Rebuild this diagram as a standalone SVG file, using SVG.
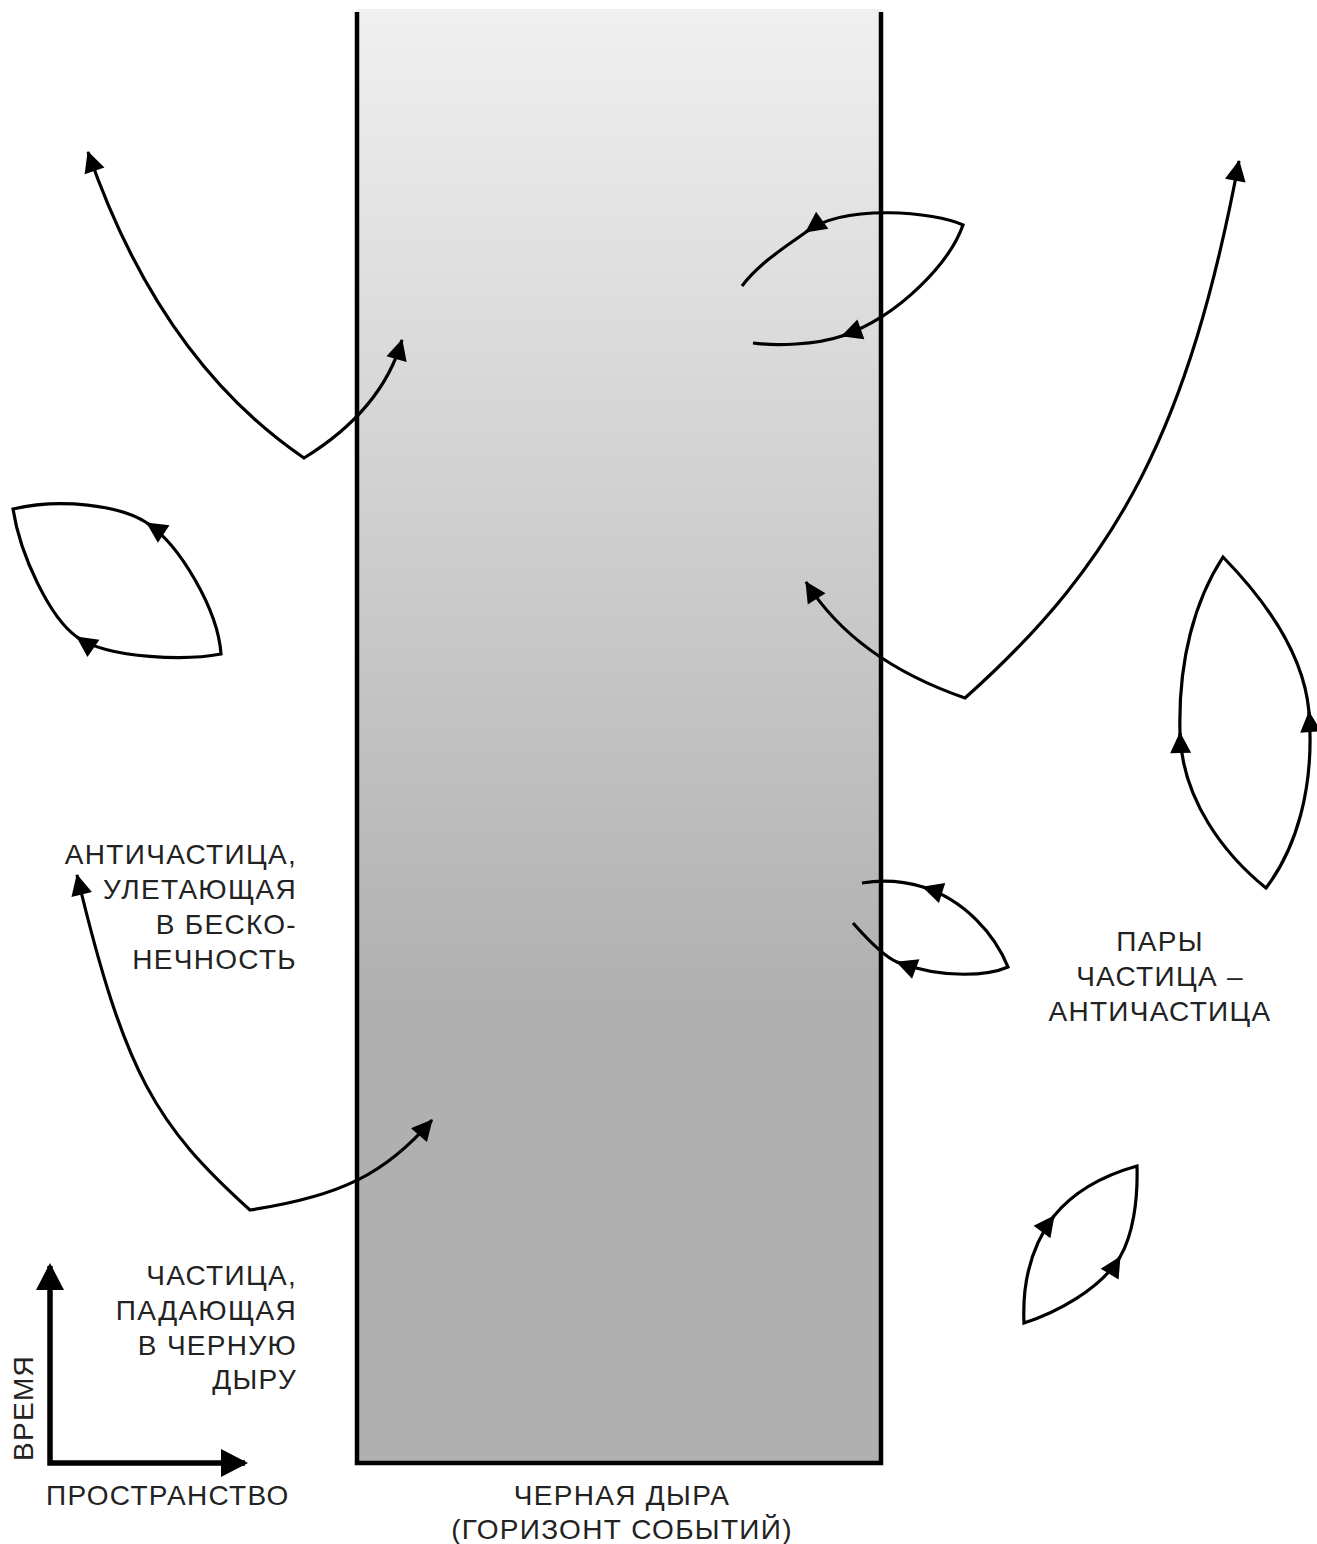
<svg xmlns="http://www.w3.org/2000/svg" width="1317" height="1544" viewBox="0 0 1317 1544">
  <defs>
    <linearGradient id="bh" gradientUnits="userSpaceOnUse" x1="0" y1="9" x2="0" y2="1463">
      <stop offset="0" stop-color="#f0f0f0"/>
      <stop offset="0.68" stop-color="#b0b0b0"/>
      <stop offset="1" stop-color="#b0b0b0"/>
    </linearGradient>
    <marker id="ah" markerUnits="userSpaceOnUse" markerWidth="24" markerHeight="24" refX="20" refY="10.5" orient="auto-start-reverse" overflow="visible">
      <path d="M0,0 L21,10.5 L0,21 z" fill="#000"/>
    </marker>
    <marker id="ax" markerUnits="userSpaceOnUse" markerWidth="30" markerHeight="30" refX="24" refY="14" orient="auto-start-reverse" overflow="visible">
      <path d="M0,0 L27,14 L0,28 z" fill="#000"/>
    </marker>
  </defs>
  <style>
    .trk { fill: none; stroke: #000; stroke-width: 3.2; stroke-linejoin: miter; stroke-miterlimit: 10; }
    .tip { fill: none; stroke: #000; stroke-width: 3.2; marker-end: url(#ah); }
    .lbl { font-family: "Liberation Sans", Arial, sans-serif; font-size: 28px; letter-spacing: 1.3px; fill: #222; }
  </style>

  <g id="black-hole">
    <rect x="356" y="9" width="526" height="1454" fill="url(#bh)"/>
    <path d="M357,12 V1463 H881 V12" fill="none" stroke="#000" stroke-width="4.5"/>
  </g>

  <g id="connectors">
    <!-- top-left pair: antiparticle escapes, particle falls in -->
    <path class="trk" d="M88,152 Q160,360 304,458 Q382,410 402,340" marker-start="url(#ah)" marker-end="url(#ah)"/>
    <!-- top middle loop across horizon -->
    <path class="trk" d="M742,286 C760,262 790,244 806,232 C845,203 935,212 963,225 C950,262 900,316 842,336 C816,345 775,346 753,343"/>
    <path class="tip" d="M811,228.4 L806,232"/>
    <path class="tip" d="M847.7,334 L842,336"/>
    <!-- left lens -->
    <path class="trk" d="M221,654 C218,610 180,545 147,523 C120,505 60,498 13,509 C20,555 50,618 77,637 C110,660 190,660 221,654 Z"/>
    <path class="tip" d="M152,526.3 L147,523"/>
    <path class="tip" d="M81.9,640.4 L77,637"/>
    <!-- right big pair -->
    <path class="trk" d="M806,582 Q855,660 965,698 C1120,560 1189,426 1239,161" marker-start="url(#ah)" marker-end="url(#ah)"/>
    <!-- right lens -->
    <path class="trk" d="M1266,888 C1225,855 1182,800 1180,733 C1178,660 1195,600 1223,557 C1265,600 1304,655 1309,712 C1315,790 1295,850 1266,888 Z"/>
    <path class="tip" d="M1180.2,739 L1180,733"/>
    <path class="tip" d="M1309.5,718 L1309,712"/>
    <!-- middle right pair across horizon -->
    <path class="trk" d="M862,883 C880,880 900,880 923,887 C965,900 995,935 1008,967 C990,975 945,980 897,962 C885,957 868,940 853,923"/>
    <path class="tip" d="M928.7,888.8 L923,887"/>
    <path class="tip" d="M902.6,964.1 L897,962"/>
    <!-- bottom right lens -->
    <path class="trk" d="M1024,1323 C1022,1280 1032,1245 1054,1216 C1075,1190 1105,1175 1137,1166 C1138,1200 1133,1235 1120,1257 C1100,1290 1055,1313 1024,1323 Z"/>
    <path class="tip" d="M1050.4,1220.8 L1054,1216"/>
    <path class="tip" d="M1116.9,1262.1 L1120,1257"/>
    <!-- bottom left pair -->
    <path class="trk" d="M77,875 C125,1075 156,1125 250,1210 C340,1196.5 385.5,1174 432,1120" marker-start="url(#ah)" marker-end="url(#ah)"/>
  </g>

  <g id="axes">
    <path d="M50,1266 V1463 H245" fill="none" stroke="#000" stroke-width="5.5" stroke-linejoin="miter" marker-start="url(#ax)" marker-end="url(#ax)"/>
    <text class="lbl" x="46" y="1505">ПРОСТРАНСТВО</text>
    <text class="lbl" transform="translate(33,1461) rotate(-90)" x="0" y="0">ВРЕМЯ</text>
  </g>

  <g id="label-antiparticle">
    <text class="lbl" text-anchor="end" x="297" y="864">АНТИЧАСТИЦА,</text>
    <text class="lbl" text-anchor="end" x="297" y="899">УЛЕТАЮЩАЯ</text>
    <text class="lbl" text-anchor="end" x="297" y="934">В БЕСКО-</text>
    <text class="lbl" text-anchor="end" x="297" y="969">НЕЧНОСТЬ</text>
  </g>

  <g id="label-particle">
    <text class="lbl" text-anchor="end" x="297" y="1285">ЧАСТИЦА,</text>
    <text class="lbl" text-anchor="end" x="297" y="1320">ПАДАЮЩАЯ</text>
    <text class="lbl" text-anchor="end" x="297" y="1355">В ЧЕРНУЮ</text>
    <text class="lbl" text-anchor="end" x="297" y="1389">ДЫРУ</text>
  </g>

  <g id="label-pairs">
    <text class="lbl" text-anchor="middle" x="1160" y="951">ПАРЫ</text>
    <text class="lbl" text-anchor="middle" x="1160" y="986">ЧАСТИЦА –</text>
    <text class="lbl" text-anchor="middle" x="1160" y="1021">АНТИЧАСТИЦА</text>
  </g>

  <g id="label-black-hole">
    <text class="lbl" text-anchor="middle" x="622" y="1505">ЧЕРНАЯ ДЫРА</text>
    <text class="lbl" text-anchor="middle" x="622" y="1539">(ГОРИЗОНТ СОБЫТИЙ)</text>
  </g>
</svg>
